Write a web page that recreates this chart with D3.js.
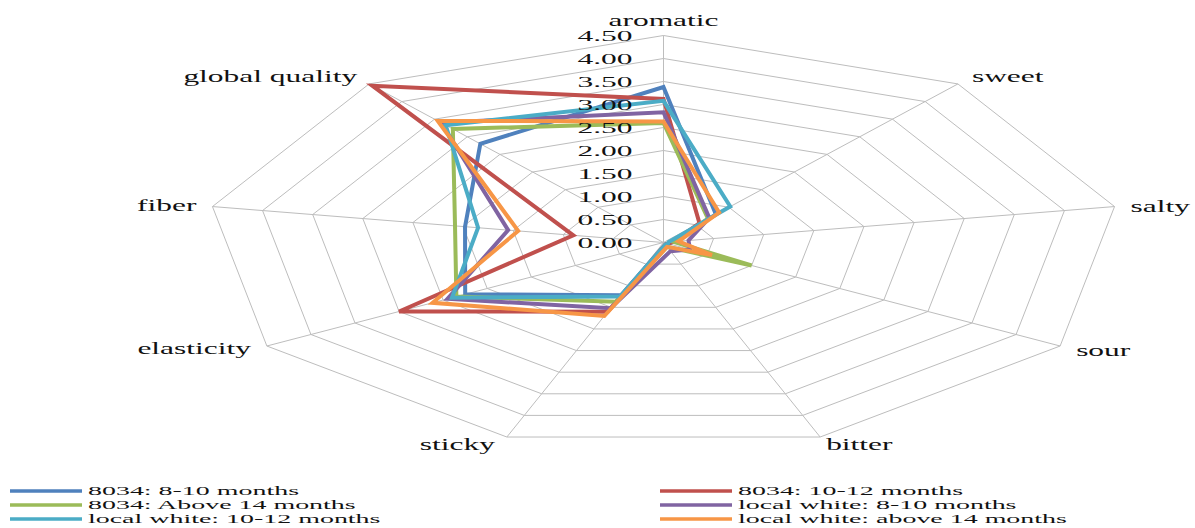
<!DOCTYPE html>
<html><head><meta charset="utf-8">
<script src="https://cdnjs.cloudflare.com/ajax/libs/d3/7.8.5/d3.min.js"></script>
<style>html,body{margin:0;padding:0;background:#fff;}svg{display:block;}</style>
</head><body>
<svg id="chart" width="1195" height="528"></svg>
<script>
const axes = ["aromatic","sweet","salty","sour","bitter","sticky","elasticity","fiber","global quality"];
const tickValues = [0,0.5,1,1.5,2,2.5,3,3.5,4,4.5];
const tickLabels = ["0.00","0.50","1.00","1.50","2.00","2.50","3.00","3.50","4.00","4.50"];
const seriesNames = ["8034: 8-10 months","8034: 10-12 months","8034: Above 14 months","local white: 8-10 months","local white: 10-12 months","local white: above 14 months"];
const seriesColors = ["#4F81BD","#C0504D","#9BBB59","#8064A2","#4BACC6","#F79646"];
// values in axis order: aromatic, sweet, salty, sour, bitter, sticky, elasticity, fiber, global quality
const s1 = [3.38, 0.80, 0.10, 0.05, 0.05, 1.22, 2.25, 1.98, 2.80];
const s2 = [3.12, 0.55, 0.10, 0.05, 0.05, 1.60, 3.00, 0.90, 4.45];
const s3 = [2.60, 0.68, 0.10, 1.00, 0.10, 1.37, 2.35, 2.08, 3.22];
const s4 = [2.83, 0.70, 0.25, 0.30, 0.20, 1.52, 2.45, 1.55, 3.40];
const s5 = [3.08, 1.02, 0.05, 0.05, 0.05, 1.25, 2.40, 1.85, 3.33];
const s6 = [2.63, 0.85, 0.15, 0.55, 0.10, 1.70, 2.62, 1.45, 3.45];
const seriesValues = [s1, s2, s3, s4, s5, s6];

const svg = d3.select("#chart");
const cx = 663.5, cy = 242.5;
const rx = d3.scaleLinear().domain([0, 4.5]).range([0, 458]);
const ry = d3.scaleLinear().domain([0, 4.5]).range([0, 207]);
const ang = d3.scaleLinear().domain([0, axes.length]).range([0, 2 * Math.PI]);
function pt(i, v) {
  const a = ang(i);
  return [cx + rx(v) * Math.sin(a), cy - ry(v) * Math.cos(a)];
}
const FONT = "'Liberation Serif','Times New Roman',serif";
const TXT = "#111";

// grid polygons
const grid = svg.append("g");
tickValues.slice(1).forEach(t => {
  const pts = axes.map((_, i) => pt(i, t));
  grid.append("path")
    .attr("d", d3.line()(pts) + "Z")
    .attr("fill", "none").attr("stroke", "#BDBDBD").attr("stroke-width", 1);
});
axes.forEach((_, i) => {
  const p = pt(i, 4.5);
  grid.append("line").attr("x1", cx).attr("y1", cy).attr("x2", p[0]).attr("y2", p[1])
    .attr("stroke", "#BDBDBD").attr("stroke-width", 1);
});

// series
const lineGen = d3.line().curve(d3.curveLinearClosed);
seriesValues.forEach((vals, k) => {
  svg.append("path")
    .attr("d", lineGen(vals.map((v, i) => pt(i, v))))
    .attr("fill", "none").attr("stroke", seriesColors[k])
    .attr("stroke-width", 4).attr("stroke-linejoin", "miter");
});

// tick labels
tickValues.forEach((t, j) => {
  svg.append("text")
    .attr("transform", `translate(${cx - 31},${cy - ry(t)}) scale(2.1,1)`)
    .attr("text-anchor", "end").attr("dominant-baseline", "central")
    .attr("font-family", FONT).attr("font-size", 15).attr("fill", TXT)
    .text(tickLabels[j]);
});

// axis labels
const labelPos = [
  {dx: 0, dy: -10, anchor: "middle"},
  {dx: 14, dy: -2, anchor: "start"},
  {dx: 16, dy: 5, anchor: "start"},
  {dx: 16, dy: 10, anchor: "start"},
  {dx: 6, dy: 13, anchor: "start"},
  {dx: -12, dy: 13, anchor: "end"},
  {dx: -16, dy: 8, anchor: "end"},
  {dx: -16, dy: 4, anchor: "end"},
  {dx: -12, dy: -2, anchor: "end"}
];
axes.forEach((name, i) => {
  const p = pt(i, 4.5);
  const lp = labelPos[i];
  svg.append("text")
    .attr("transform", `translate(${p[0] + lp.dx},${p[1] + lp.dy}) scale(1.85,1)`)
    .attr("text-anchor", lp.anchor)
    .attr("font-family", FONT).attr("font-size", 17).attr("fill", TXT)
    .text(name);
});

// legend
const legX = [10, 660];
const legY = [491, 505, 519];
seriesNames.forEach((name, k) => {
  const col = k % 2, row = Math.floor(k / 2);
  const x0 = legX[col], y0 = legY[row];
  svg.append("line").attr("x1", x0).attr("x2", x0 + 72).attr("y1", y0).attr("y2", y0)
    .attr("stroke", seriesColors[k]).attr("stroke-width", 3.5);
  svg.append("text")
    .attr("transform", `translate(${x0 + 78},${y0}) scale(2.15,1)`)
    .attr("dominant-baseline", "central")
    .attr("font-family", FONT).attr("font-size", 13).attr("fill", TXT)
    .text(name);
});
</script>
</body></html>
